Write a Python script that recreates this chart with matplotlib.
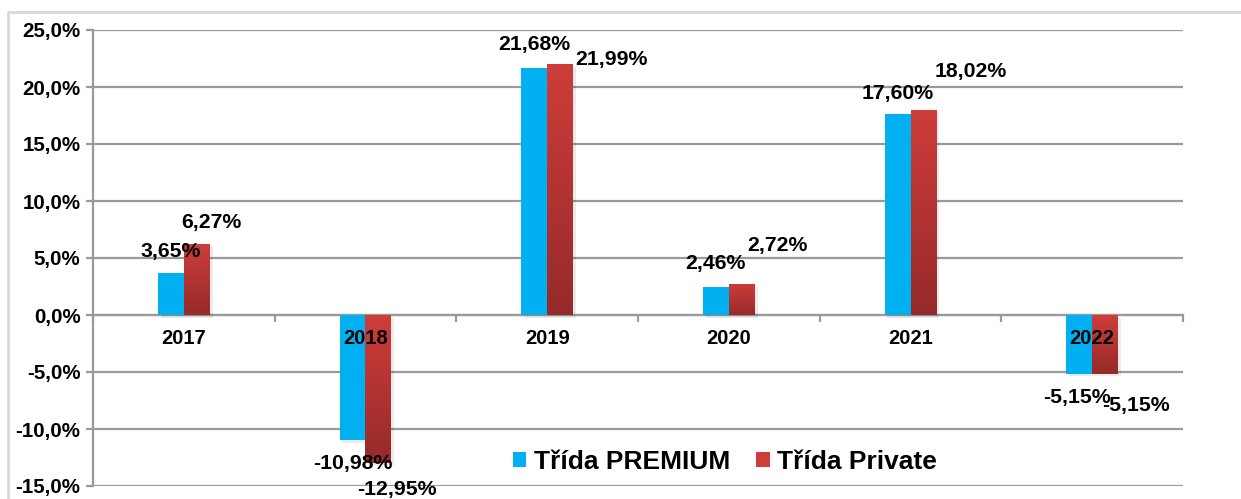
import matplotlib
matplotlib.use('Agg')
import matplotlib.pyplot as plt
import numpy as np
from matplotlib.patches import Rectangle, Patch
from matplotlib import patheffects as pe
from matplotlib.colors import LinearSegmentedColormap

# ---- data ----
years = ['2017', '2018', '2019', '2020', '2021', '2022']
premium = [3.65, -10.98, 21.68, 2.46, 17.60, -5.15]
private = [6.27, -12.95, 21.99, 2.72, 18.02, -5.15]
series_names = ['Třída PREMIUM', 'Třída Private']
y_ticks = [-15, -10, -5, 0, 5, 10, 15, 20, 25]

# label offsets in pixels (dx, dy) relative to the bar end
prem_off = [(0, 22), (0, -23), (0, 23), (0, 23), (0, 21), (-2, -24)]
priv_off = [(15, 21), (18, -27), (51, 5), (36, 38), (47, 38), (31, -32)]

BLUE = '#00B0F0'
RED_TOP = '#CE3D3A'
RED_BOT = '#962A2A'
GRID = '#9a9a9a'

plt.rcParams['font.family'] = ['Liberation Sans', 'DejaVu Sans']
plt.rcParams['font.weight'] = 'bold'

W, H = 1241, 499
fig = plt.figure(figsize=(W / 100, H / 100), dpi=100)
ax = fig.add_axes([93 / W, 13 / H, (1183 - 93) / W, (486 - 30) / H])

x = np.arange(len(years))
bw = 0.143

shadow = [pe.SimplePatchShadow(offset=(2, -2), shadow_rgbFace='#000000', alpha=0.08), pe.Normal()]
b1 = ax.bar(x - bw / 2, premium, bw, color=BLUE, zorder=3, path_effects=shadow)
b2 = ax.bar(x + bw / 2, private, bw, color=RED_TOP, zorder=3, path_effects=shadow)

cmap = LinearSegmentedColormap.from_list('rg', [RED_BOT, RED_TOP])
grad = np.linspace(0, 1, 256).reshape(-1, 1)
for rect in b2:
    x0 = rect.get_x()
    x1 = x0 + rect.get_width()
    y0 = rect.get_y()
    y1 = y0 + rect.get_height()
    lo, hi = min(y0, y1), max(y0, y1)
    im = ax.imshow(grad, cmap=cmap, extent=[x0, x1, lo, hi], origin='lower',
                   aspect='auto', zorder=3.1, interpolation='bilinear')
    im.set_clip_path(rect)

ax.set_xlim(-0.5, len(years) - 0.5)
ax.set_ylim(-15, 25)
ax.set_aspect('auto')

ax.set_yticks(y_ticks)
ax.set_yticklabels([f"{v:.1f}%".replace('.', ',') for v in y_ticks], fontsize=14.8, fontweight='bold')
ax.yaxis.grid(True, color=GRID, lw=1.6)
ax.set_axisbelow(True)
ax.tick_params(axis='y', length=5, width=1.6, color=GRID, pad=4)

for s in ['top', 'right']:
    ax.spines[s].set_visible(False)
ax.spines['left'].set_color(GRID)
ax.spines['left'].set_linewidth(1.6)
ax.spines['bottom'].set_position(('data', 0))
ax.spines['bottom'].set_color(GRID)
ax.spines['bottom'].set_linewidth(1.6)

ax.set_xticks(np.arange(-0.5, len(years), 1.0))
ax.set_xticklabels([])
ax.tick_params(axis='x', length=5, width=1.6, color=GRID, direction='out')

for i, yr in enumerate(years):
    ax.annotate(yr, (x[i], 0), xytext=(0, -23), textcoords='offset pixels',
                ha='center', va='center', fontsize=14.5, fontweight='bold', zorder=8)

def fmt(v):
    return f"{v:.2f}%".replace('.', ',')

for i in range(len(years)):
    ax.annotate(fmt(premium[i]), (x[i] - bw / 2, premium[i]), xytext=prem_off[i],
                textcoords='offset pixels', ha='center', va='center',
                fontsize=15.3, fontweight='bold', zorder=9, annotation_clip=False)
    ax.annotate(fmt(private[i]), (x[i] + bw / 2, private[i]), xytext=priv_off[i],
                textcoords='offset pixels', ha='center', va='center',
                fontsize=15.3, fontweight='bold', zorder=9, annotation_clip=False)

handles = [Patch(facecolor=BLUE), Patch(facecolor=RED_TOP)]
leg = ax.legend(handles, series_names, loc='center', bbox_to_anchor=(725 / W, 1 - 462 / H),
                bbox_transform=fig.transFigure, ncol=2, frameon=False,
                prop={'size': 19, 'weight': 'bold'}, handlelength=0.5, handleheight=0.5,
                handletextpad=0.3, columnspacing=1.0, borderpad=0)
leg.set_zorder(10)

fig.patches.append(Rectangle((8 / W, -0.1), 1.2, 1 - 12 / H + 0.1, transform=fig.transFigure,
                             fill=False, ec='#d9d9d9', lw=2))

fig.savefig('out.png', dpi=100)
